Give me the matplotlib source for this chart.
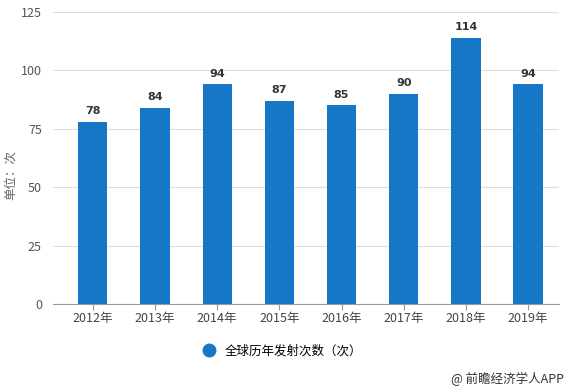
import matplotlib.pyplot as plt
from matplotlib.lines import Line2D

plt.rcParams['font.family'] = ['Noto Sans CJK SC', 'DejaVu Sans']

# data
years = ["2012年", "2013年", "2014年", "2015年", "2016年", "2017年", "2018年", "2019年"]
launches = [78, 84, 94, 87, 85, 90, 114, 94]
yticks = [0, 25, 50, 75, 100, 125]

bar_color = "#1677c6"

fig = plt.figure(figsize=(5.7, 3.89), dpi=100)
ax = fig.add_axes([0.093, 0.2185, 0.888, 0.7505])

x = list(range(len(years)))
ax.bar(x, launches, width=0.47, color=bar_color, zorder=3)
for xi, v in zip(x, launches):
    ax.text(xi, v + 2.5, str(v), ha="center", va="bottom", fontsize=8,
            fontweight="bold", color="#333333", family="DejaVu Sans")

ax.set_ylim(0, 125)
ax.set_xlim(-0.64, 7.5)
ax.set_yticks(yticks)
ax.set_yticklabels([str(t) for t in yticks], fontsize=9, color="#555555")
ax.set_xticks(x)
ax.set_xticklabels(years, fontsize=9, color="#444444")
ax.tick_params(axis="y", length=0, pad=8)
ax.tick_params(axis="x", length=4, color="#999999", pad=2)
ax.grid(axis="y", color="#dddddd", linewidth=0.8, zorder=0)

for s in ["top", "right", "left"]:
    ax.spines[s].set_visible(False)
ax.spines["bottom"].set_color("#999999")

fig.text(0.018, 0.55, "单位：次", rotation=90, ha="center", va="center",
         fontsize=9, color="#666666")

handle = Line2D([], [], marker="o", linestyle="none", markersize=9,
                markerfacecolor=bar_color, markeredgecolor=bar_color)
fig.legend([handle], ["全球历年发射次数（次）"], loc="center",
           bbox_to_anchor=(0.49, 0.097), frameon=False, fontsize=9,
           handletextpad=0.3)

fig.text(0.99, 0.025, "@ 前瞻经济学人APP", ha="right", va="center",
         fontsize=9, color="#333333")

fig.savefig("out.png", dpi=100)
